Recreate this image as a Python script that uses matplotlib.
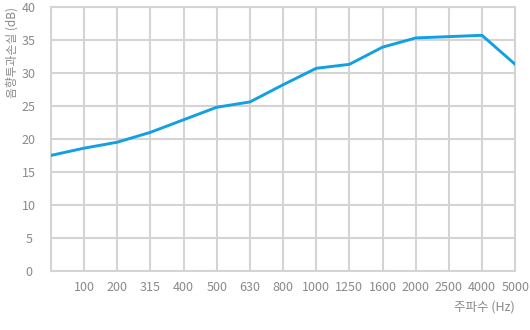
import matplotlib
matplotlib.use("Agg")
import matplotlib.pyplot as plt

plt.rcParams['font.family'] = ['Noto Sans CJK KR', 'DejaVu Sans']

x_labels = ["", "100", "200", "315", "400", "500", "630", "800", "1000", "1250",
            "1600", "2000", "2500", "4000", "5000"]
loss_db = [17.5, 18.6, 19.5, 21.0, 22.9, 24.8, 25.6, 28.2, 30.7, 31.3,
           33.9, 35.3, 35.5, 35.7, 31.3]
y_ticks = [0, 5, 10, 15, 20, 25, 30, 35, 40]

fig = plt.figure(figsize=(5.3, 3.3), dpi=100)
ax = fig.add_axes([0.096, 0.179, 0.876, 0.800])

grid_c = "#d4d4d4"
text_c = "#8a8a8a"
xs = list(range(len(x_labels)))
ax.plot(xs, loss_db, color="#12a0e3", lw=2.1, zorder=3)

ax.set_xlim(0, len(x_labels) - 1)
ax.set_ylim(0, 40)
ax.set_xticks(xs)
ax.set_xticklabels(x_labels)
ax.set_yticks(y_ticks)
ax.grid(True, color=grid_c, lw=1.5)
for s in ax.spines.values():
    s.set_color(grid_c)
    s.set_linewidth(1.5)
ax.tick_params(length=0, colors=text_c, labelsize=9)
ax.tick_params(axis='x', pad=7)
for lbl in ax.get_yticklabels():
    lbl.set_horizontalalignment('center')
ax.tick_params(axis='y', pad=16)

fig.text(0.022, 0.979, "음향투과손실 (dB)", rotation=90, ha='center', va='top',
         color=text_c, fontsize=8.5)
fig.text(0.972, 0.07, "주파수 (Hz)", ha='right', va='center', color=text_c, fontsize=9)

fig.savefig("out.png", dpi=100)
